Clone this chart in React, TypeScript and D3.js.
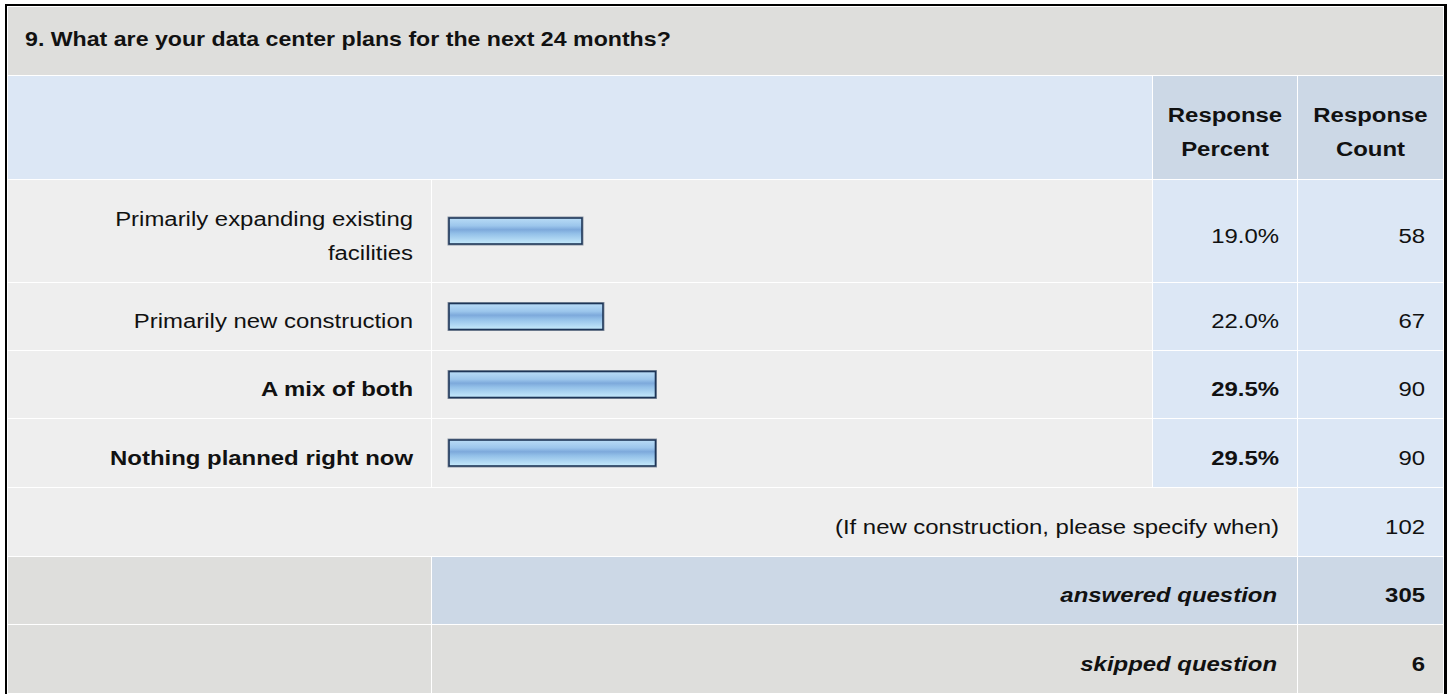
import React from "react";
import * as d3 from "d3";

// ---- data ----
const questionTitle = "9. What are your data center plans for the next 24 months?";
const categories = [
  "Primarily expanding existing facilities",
  "Primarily new construction",
  "A mix of both",
  "Nothing planned right now",
];
const percents = [19.0, 22.0, 29.5, 29.5];
const counts = [58, 67, 90, 90];
const headerPercent = ["Response", "Percent"];
const headerCount = ["Response", "Count"];
const otherLabel = "(If new construction, please specify when)";
const otherCount = 102;
const answeredLabel = "answered question";
const answeredCount = 305;
const skippedLabel = "skipped question";
const skippedCount = 6;

// ---- layout ----
const W = 1452;
const H = 694;
const FONT = "'Liberation Sans', Arial, Helvetica, sans-serif";
const FS = 21;
const SX = 1.14;
const colEdges = [
  [8, 431],
  [432, 1152],
  [1153, 1297],
  [1298, 1443],
];
const rowHeights = [68, 103, 102, 67, 67, 68, 68, 67, 68];
const rowTops: number[] = [];
{
  let y = 7;
  rowHeights.forEach((h) => {
    rowTops.push(y);
    y += h + 1;
  });
}
const C = {
  title: "#DEDEDC",
  headLight: "#DCE7F5",
  headDark: "#CCD8E6",
  row: "#EEEEEE",
  cellBlue: "#DCE7F5",
  gray: "#DEDEDC",
  text: "#111111",
};

function measure(text: string, weight: string) {
  if (typeof document === "undefined") return text.length * FS * 0.5 * SX;
  const cv = document.createElement("canvas");
  const ctx = cv.getContext("2d");
  if (!ctx) return text.length * FS * 0.5 * SX;
  ctx.font = `${weight} ${FS}px 'Liberation Sans', Arial, sans-serif`;
  return ctx.measureText(text).width * SX;
}

function wrap(text: string, maxW: number, weight: string) {
  const words = text.split(" ");
  const lines: string[] = [];
  let cur = "";
  words.forEach((w) => {
    const t = cur ? cur + " " + w : w;
    if (cur && measure(t, weight) > maxW) {
      lines.push(cur);
      cur = w;
    } else cur = t;
  });
  if (cur) lines.push(cur);
  return lines;
}

type TProps = {
  x: number;
  y: number;
  anchor?: "start" | "middle" | "end";
  bold?: boolean;
  italic?: boolean;
  size?: number;
  sx?: number;
  children: React.ReactNode;
};
function T({ x, y, anchor = "end", bold, italic, size = FS, sx = SX, children }: TProps) {
  return (
    <text
      transform={`translate(${x},${y}) scale(${sx},1)`}
      textAnchor={anchor}
      fontFamily={FONT}
      fontSize={size}
      fontWeight={bold ? "bold" : "normal"}
      fontStyle={italic ? "italic" : "normal"}
      fill={C.text}
    >
      {children}
    </text>
  );
}

export default function App() {
  const maxP = d3.max(percents) as number;
  const barX0 = colEdges[1][0] + 17;
  const x = d3.scaleLinear().domain([0, 100]).range([barX0, barX0 + 700]);
  const barH = 26;
  const pad = 18;
  const BASE = 11.5;
  const LINE = 34;
  const rowCenter = (i: number) => rowTops[i] + rowHeights[i] / 2;
  const cell = (ci0: number, ci1: number, ri: number, fill: string, key: string) => (
    <rect
      key={key}
      x={colEdges[ci0][0]}
      y={rowTops[ri]}
      width={colEdges[ci1][1] - colEdges[ci0][0]}
      height={rowHeights[ri]}
      fill={fill}
    />
  );

  return (
    <svg
      width={W}
      height={H}
      style={{ position: "absolute", left: 0, top: 0, background: "#fff" }}
    >
      <defs>
        <linearGradient id="barGrad" x1="0" y1="0" x2="0" y2="1">
          <stop offset="0%" stopColor="#B9DCF6" />
          <stop offset="30%" stopColor="#9CC6EC" />
          <stop offset="45%" stopColor="#7DA9DB" />
          <stop offset="60%" stopColor="#93C0E8" />
          <stop offset="100%" stopColor="#C6EAFB" />
        </linearGradient>
      </defs>
      {/* outer border */}
      <rect x={5} y={4} width={1442} height={694} fill="#000" />
      <rect x={7} y={6} width={1437} height={694} fill="#fff" />

      {/* title row */}
      {cell(0, 3, 0, C.title, "title")}
      <T x={25} y={46} anchor="start" bold size={20.5} sx={1.13}>
        {questionTitle}
      </T>

      {/* header row */}
      {cell(0, 1, 1, C.headLight, "h0")}
      {cell(2, 2, 1, C.headDark, "h2")}
      {cell(3, 3, 1, C.headDark, "h3")}
      {headerPercent.map((t, k) => (
        <T
          key={"hp" + k}
          x={(colEdges[2][0] + colEdges[2][1]) / 2}
          y={rowCenter(1) + BASE - LINE / 2 + k * LINE}
          anchor="middle"
          bold
        >
          {t}
        </T>
      ))}
      {headerCount.map((t, k) => (
        <T
          key={"hc" + k}
          x={(colEdges[3][0] + colEdges[3][1]) / 2}
          y={rowCenter(1) + BASE - LINE / 2 + k * LINE}
          anchor="middle"
          bold
        >
          {t}
        </T>
      ))}

      {/* data rows */}
      {categories.map((cat, i) => {
        const ri = i + 2;
        const isMax = percents[i] === maxP;
        const lines = wrap(cat, 340, isMax ? "bold" : "normal");
        const cy = rowCenter(ri);
        return (
          <g key={"r" + i}>
            {cell(0, 0, ri, C.row, "a")}
            {cell(1, 1, ri, C.row, "b")}
            {cell(2, 2, ri, C.cellBlue, "c")}
            {cell(3, 3, ri, C.cellBlue, "d")}
            {lines.map((ln, k) => (
              <T
                key={k}
                x={colEdges[0][1] - pad}
                y={cy + BASE - ((lines.length - 1) * LINE) / 2 + k * LINE}
                bold={isMax}
              >
                {ln}
              </T>
            ))}
            <rect
              x={x(0) - 1}
              y={cy - barH / 2 - 1}
              width={x(percents[i]) - x(0) + 2}
              height={barH + 2}
              fill="none"
              stroke="#8C96A3"
              strokeWidth={1}
            />
            <rect
              x={x(0)}
              y={cy - barH / 2}
              width={x(percents[i]) - x(0)}
              height={barH}
              fill="url(#barGrad)"
              stroke="#1D3557"
              strokeWidth={1.6}
            />
            <T x={colEdges[2][1] - pad} y={cy + BASE} bold={isMax}>
              {percents[i].toFixed(1) + "%"}
            </T>
            <T x={colEdges[3][1] - pad} y={cy + BASE}>
              {counts[i]}
            </T>
          </g>
        );
      })}

      {/* other row */}
      {cell(0, 2, 6, C.row, "o1")}
      {cell(3, 3, 6, C.cellBlue, "o2")}
      <T x={colEdges[2][1] - pad} y={rowCenter(6) + BASE}>
        {otherLabel}
      </T>
      <T x={colEdges[3][1] - pad} y={rowCenter(6) + BASE}>
        {otherCount}
      </T>

      {/* answered row */}
      {cell(0, 0, 7, C.gray, "a1")}
      {cell(1, 2, 7, C.headDark, "a2")}
      {cell(3, 3, 7, C.headDark, "a3")}
      <T x={colEdges[2][1] - pad - 2} y={rowCenter(7) + BASE} bold italic>
        {answeredLabel}
      </T>
      <T x={colEdges[3][1] - pad} y={rowCenter(7) + BASE} bold>
        {answeredCount}
      </T>

      {/* skipped row */}
      {cell(0, 0, 8, C.gray, "s1")}
      {cell(1, 2, 8, C.gray, "s2")}
      {cell(3, 3, 8, C.gray, "s3")}
      <T x={colEdges[2][1] - pad - 2} y={rowCenter(8) + BASE} bold italic>
        {skippedLabel}
      </T>
      <T x={colEdges[3][1] - pad} y={rowCenter(8) + BASE} bold>
        {skippedCount}
      </T>
    </svg>
  );
}
